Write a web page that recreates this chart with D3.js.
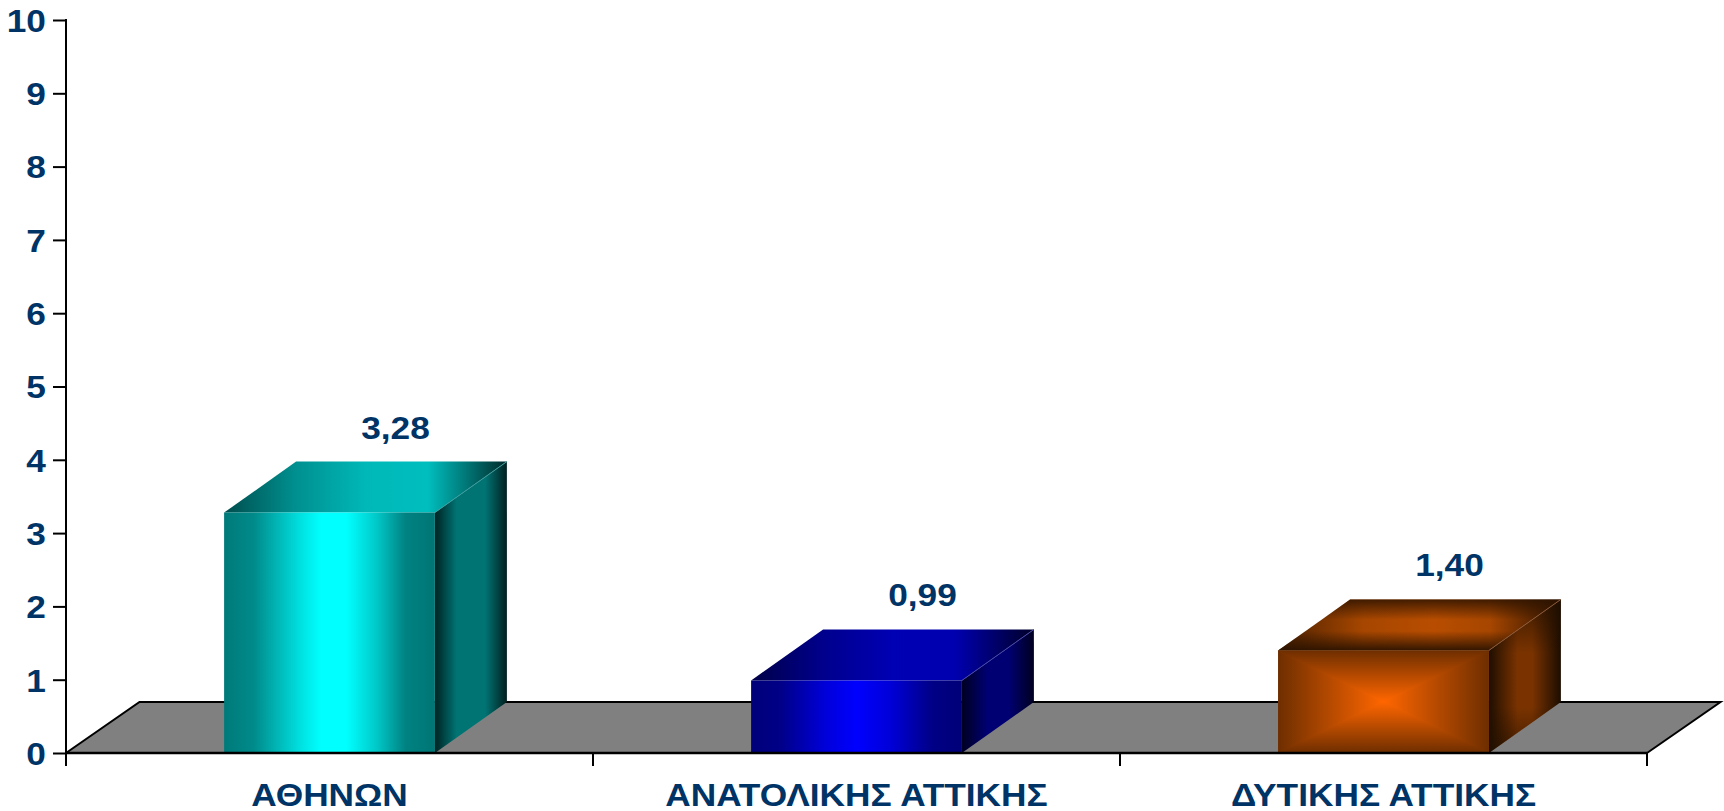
<!DOCTYPE html>
<html><head><meta charset="utf-8">
<script src="https://cdn.jsdelivr.net/npm/d3@7"></script>
<style>html,body{margin:0;padding:0;background:#fff;overflow:hidden}svg{display:block}
text{font-family:"Liberation Sans",Arial,sans-serif;font-weight:bold;fill:#003366;font-size:31.5px}</style>
</head><body><svg id="c" width="1724" height="811"></svg>
<script>
const categories = ["ΑΘΗΝΩΝ", "ΑΝΑΤΟΛΙΚΗΣ ΑΤΤΙΚΗΣ", "ΔΥΤΙΚΗΣ ΑΤΤΙΚΗΣ"];
const values = [3.28, 0.99, 1.40];
const valueLabels = ["3,28", "0,99", "1,40"];
const yTicks = [0,1,2,3,4,5,6,7,8,9,10];

const svg = d3.select("#c");
const defs = svg.append("defs");
const y = d3.scaleLinear().domain([0,10]).range([753,20]);
const x = d3.scaleBand().domain(categories).range([66,1647]).paddingInner(0.6).paddingOuter(0.3);
const step = x.step();
const floorDx = 73.5, depthDy = 51, barDx = 72, textStretch = 1.12;

function linGrad(id, stops, vertical){
  const g = defs.append("linearGradient").attr("id",id).attr("x1",0).attr("y1",0)
    .attr("x2",vertical?0:1).attr("y2",vertical?1:0);
  stops.forEach(s=>g.append("stop").attr("offset",s[0]).attr("stop-color",s[1]).attr("stop-opacity",s[2]===undefined?1:s[2]));
}
linGrad("tealFront", [[0,"#007a7a"],[0.14,"#008a8a"],[0.36,"#00e0e0"],[0.46,"#00ffff"],[0.58,"#00ffff"],[0.72,"#00caca"],[0.86,"#008282"],[1,"#007575"]]);
linGrad("tealTop", [[0,"#004d4d"],[0.25,"#008f8f"],[0.5,"#00b8b8"],[0.72,"#00bebe"],[0.85,"#007a7a"],[1,"#002a2a"]]);
linGrad("tealSide", [[0,"#002323"],[0.3,"#007373"],[0.7,"#007373"],[1,"#001f1f"]]);
linGrad("blueFront", [[0,"#00007a"],[0.14,"#000088"],[0.36,"#0000dc"],[0.5,"#0000ff"],[0.66,"#0000d8"],[0.86,"#000086"],[1,"#000078"]]);
linGrad("blueTop", [[0,"#000048"],[0.25,"#00008c"],[0.5,"#0000b4"],[0.72,"#0000b0"],[0.85,"#000070"],[1,"#000028"]]);
linGrad("blueSide", [[0,"#000022"],[0.35,"#000072"],[0.65,"#000072"],[1,"#000020"]]);
linGrad("orangeTop", [[0,"#4a2000"],[0.3,"#a64600"],[0.55,"#b84d00"],[0.75,"#a64600"],[0.9,"#5a2600"],[1,"#2c1300"]]);
linGrad("orangeTopShade", [[0,"#2c1300",0.85],[0.4,"#2c1300",0],[0.62,"#2c1300",0],[1,"#2c1300",0.95]], true);
linGrad("orangeSide", [[0,"#1e0e00"],[0.4,"#7a3300"],[0.6,"#7a3300"],[1,"#1c0d00"]]);
linGrad("orangeSideShade", [[0,"#1e0e00",0.7],[0.35,"#1e0e00",0],[0.7,"#1e0e00",0],[1,"#1e0e00",0.6]], true);

// rectangular "path" gradient of the orange front face
[["L",0,0.5],["R",1,0.5],["T",0.5,0],["B",0.5,1]].forEach(d=>{
  const g = defs.append("linearGradient").attr("id","orangeFront"+d[0]).attr("gradientUnits","userSpaceOnUse")
    .attr("x1",d[1]).attr("y1",d[2]).attr("x2",0.5).attr("y2",0.5);
  g.append("stop").attr("offset",0).attr("stop-color","#6e2e00");
  g.append("stop").attr("offset",1).attr("stop-color","#ff6600");
});
defs.append("clipPath").attr("id","unit").append("rect").attr("width",1).attr("height",1);

function poly(parent, pts, fill){
  parent.append("path").attr("d",d3.line()(pts)+"Z").attr("fill",fill);
}
function pathFace(parent, o, u, v, id){
  const g = parent.append("g").attr("transform",`matrix(${u[0]},${u[1]},${v[0]},${v[1]},${o[0]},${o[1]})`)
    .attr("clip-path","url(#unit)");
  const tris = {L:"M0,0L.5,.5L0,1Z",R:"M1,0L.5,.5L1,1Z",T:"M0,0L.5,.5L1,0Z",B:"M0,1L.5,.5L1,1Z"};
  Object.keys(tris).forEach(k=>g.append("path").attr("d",tris[k]).attr("fill",`url(#${id}${k})`)
    .attr("stroke",`url(#${id}${k})`).attr("stroke-width",0.012));
}

// floor
const y0 = y(0), backY = y0 - depthDy, xs = 66, xe = 1647;
const floorPts = [[xs,y0],[xs+floorDx,backY],[xe+floorDx,backY],[xe,y0]];
svg.append("path").attr("d",d3.line()(floorPts)+"Z").attr("fill","#808080");
svg.append("path").attr("d",d3.line()(floorPts)).attr("fill","none").attr("stroke","#000").attr("stroke-width",2);

// bars
const styles = [
  {front:"tealFront",top:"tealTop",side:"tealSide",edge:"#3f9c9c"},
  {front:"blueFront",top:"blueTop",side:"blueSide",edge:"#4848a8"},
  {front:"orangeFront",top:"orangeTop",side:"orangeSide",edge:"#8a5a3a",shaded:true}
];
categories.forEach((c,i)=>{
  const x0 = x(c), w = x.bandwidth(), yt = y(values[i]), h = y0-yt, st = styles[i];
  const g = svg.append("g");
  const side = [[x0+w,yt],[x0+w+barDx,yt-depthDy],[x0+w+barDx,y0-depthDy],[x0+w,y0]];
  const top = [[x0,yt],[x0+barDx,yt-depthDy],[x0+w+barDx,yt-depthDy],[x0+w,yt]];
  poly(g,side,`url(#${st.side})`);
  poly(g,top,`url(#${st.top})`);
  if(st.shaded){
    poly(g,side,`url(#${st.side}Shade)`);
    poly(g,top,`url(#${st.top}Shade)`);
    pathFace(g,[x0,yt],[w,0],[0,h],st.front);
  } else {
    poly(g,[[x0,yt],[x0+w,yt],[x0+w,y0],[x0,y0]],`url(#${st.front})`);
  }
  g.append("line").attr("x1",x0+w).attr("y1",yt).attr("x2",x0+w+barDx).attr("y2",yt-depthDy)
    .attr("stroke",st.edge).attr("stroke-width",1);
});

svg.append("line").attr("x1",xs).attr("x2",xe).attr("y1",y0).attr("y2",y0).attr("stroke","#000").attr("stroke-width",2.5);

// y axis
const yAxis = d3.axisLeft(y).tickValues(yTicks).tickSize(13).tickFormat(d3.format("d"));
const yg = svg.append("g").attr("transform","translate(66,0)").call(yAxis);
yg.select(".domain").remove();
yg.selectAll("line").attr("stroke","#000").attr("stroke-width",2);
yg.selectAll("text").attr("x",0).attr("dy","0.36em")
  .attr("transform",`translate(-20,0) scale(${textStretch},1)`);
yg.attr("font-family",null).attr("font-size",null);
svg.append("line").attr("x1",66).attr("x2",66).attr("y1",19).attr("y2",766).attr("stroke","#000").attr("stroke-width",2);

// x axis ticks
const bounds = d3.range(categories.length+1).map(i=>xs+i*step);
svg.selectAll(".xt").data(bounds).join("line").attr("class","xt")
  .attr("x1",d=>d).attr("x2",d=>d).attr("y1",y0).attr("y2",766).attr("stroke","#000").attr("stroke-width",2);

// category labels
svg.selectAll(".cat").data(categories).join("text").attr("class","cat")
  .attr("transform",d=>`translate(${x(d)+x.bandwidth()/2},806) scale(${textStretch},1)`)
  .attr("text-anchor","middle").text(d=>d);

// value labels
svg.selectAll(".val").data(categories).join("text").attr("class","val")
  .attr("transform",(d,i)=>`translate(${x(d)+x.bandwidth()/2+66},${y(values[i])-74}) scale(${textStretch},1)`)
  .attr("text-anchor","middle").text((d,i)=>valueLabels[i]);
</script></body></html>
